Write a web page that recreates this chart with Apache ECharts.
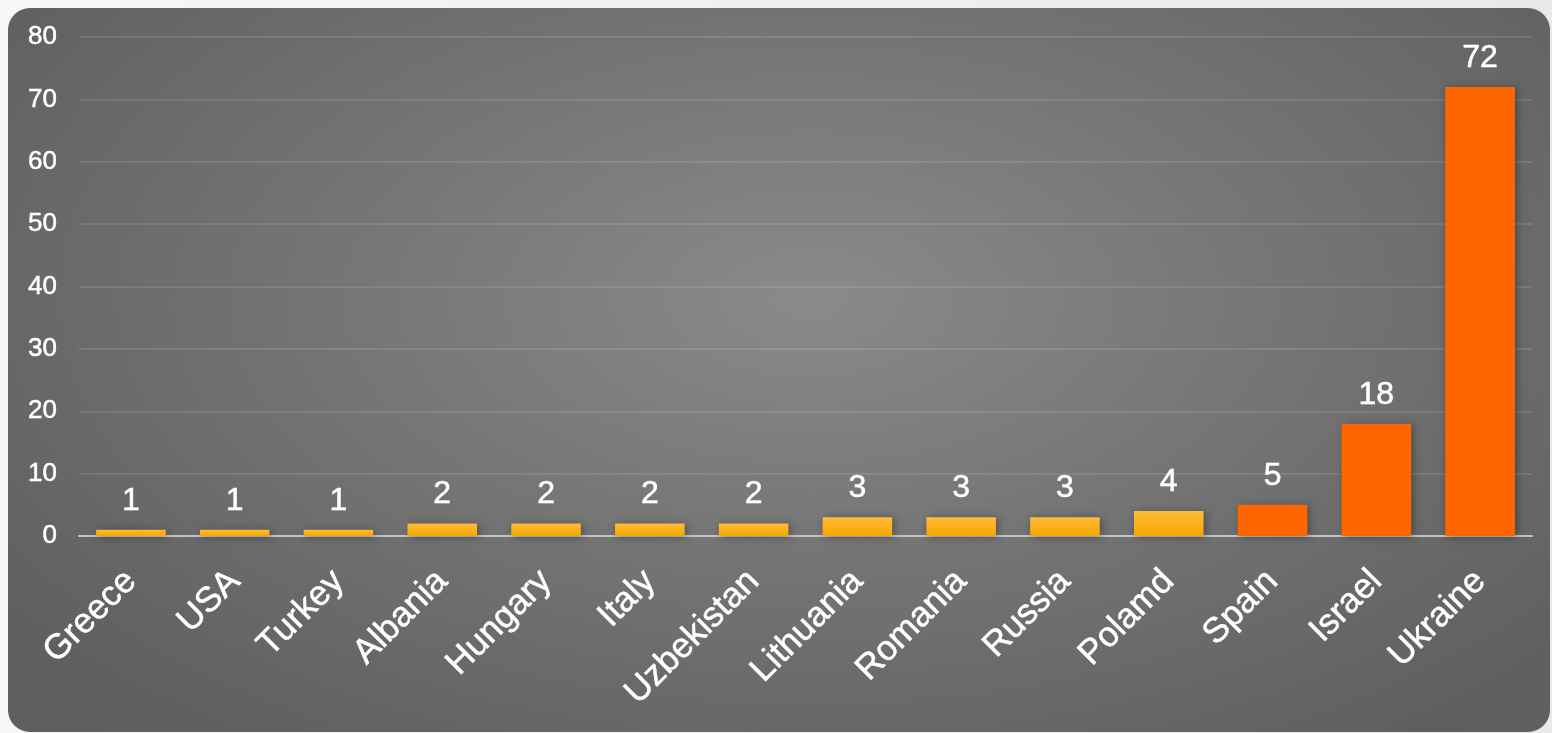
<!DOCTYPE html>
<html>
<head>
<meta charset="utf-8">
<script src="https://cdn.jsdelivr.net/npm/echarts@6/dist/echarts.min.js"></script>
<style>
  html, body { margin: 0; padding: 0; width: 1552px; height: 733px; overflow: hidden;
    background: linear-gradient(90deg, #f7f7f7 0%, #e9e9e9 100%); }
  #panel { position: absolute; left: 8px; top: 8px; width: 1542px; height: 724px;
    border-radius: 22px;
    background: radial-gradient(ellipse 65% 75% at 52% 40%, #8a8a8a 0%, #767676 45%, #5f5f5f 100%); }
  #chart { position: absolute; left: 0; top: 0; width: 1542px; height: 724px; }
</style>
</head>
<body>
<div id="panel"><div id="chart"></div></div>
<script>
const categories = ['Greece', 'USA', 'Turkey', 'Albania', 'Hungary', 'Italy', 'Uzbekistan',
  'Lithuania', 'Romania', 'Russia', 'Polamd', 'Spain', 'Israel', 'Ukraine'];
const values = [1, 1, 1, 2, 2, 2, 2, 3, 3, 3, 4, 5, 18, 72];
const yTicks = [0, 10, 20, 30, 40, 50, 60, 70, 80];

const highlightCount = 3;
const yellow = new echarts.graphic.LinearGradient(0, 0, 0, 1, [
  { offset: 0, color: '#ffbb3a' },
  { offset: 1, color: '#f5a800' }
]);
const FONT = 'Liberation Sans, Arial, Helvetica, sans-serif';

const chart = echarts.init(document.getElementById('chart'), null, { renderer: 'canvas' });
chart.setOption({
  backgroundColor: 'transparent',
  animation: false,
  grid: { left: 71, right: 18, top: 29, bottom: 196, containLabel: false, outerBoundsMode: 'none' },
  xAxis: {
    type: 'category',
    data: categories,
    axisLine: { show: true, lineStyle: { color: '#c4c4c4', width: 2 } },
    axisTick: { show: false },
    axisLabel: {
      rotate: 45, interval: 0, margin: 40,
      color: '#ffffff', fontSize: 35, fontFamily: FONT,
      textBorderColor: '#ffffff', textBorderWidth: 0.5
    }
  },
  yAxis: {
    type: 'value',
    min: yTicks[0], max: yTicks[yTicks.length - 1], interval: 10,
    axisLine: { show: false },
    axisTick: { show: false },
    splitLine: { lineStyle: { color: 'rgba(255,255,255,0.1)', width: 2 } },
    axisLabel: {
      margin: 22, color: '#ffffff', fontSize: 26, fontFamily: FONT,
      textBorderColor: '#ffffff', textBorderWidth: 0.5
    }
  },
  series: [{
    type: 'bar',
    data: values,
    barWidth: '67%',
    itemStyle: {
      color: function (p) {
        return p.dataIndex >= categories.length - highlightCount ? '#ff6600' : yellow;
      },
      shadowBlur: 8, shadowColor: 'rgba(0,0,0,0.35)', shadowOffsetX: 2, shadowOffsetY: 1
    },
    label: {
      show: true, position: 'top', distance: 13,
      color: '#ffffff', fontSize: 32, fontFamily: FONT,
      textBorderColor: '#ffffff', textBorderWidth: 0.5
    }
  }]
});
</script>
</body>
</html>
